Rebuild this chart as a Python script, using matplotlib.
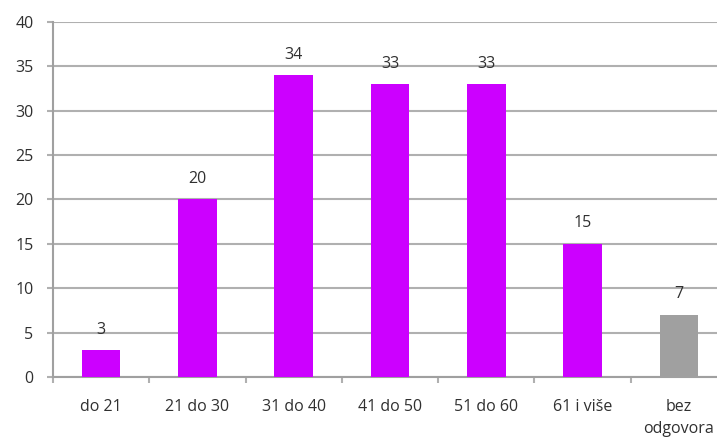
import numpy as np
import matplotlib.pyplot as plt

categories = ["do 21", "21 do 30", "31 do 40", "41 do 50", "51 do 60", "61 i više", "bez\nodgovora"]
values = [3, 20, 34, 33, 33, 15, 7]
bar_colors = ["#CC00FF"] * 6 + ["#A0A0A0"]

plt.rcParams["font.family"] = ["Open Sans", "DejaVu Sans"]

fig = plt.figure(figsize=(7.17, 4.37), dpi=100)
ax = fig.add_axes([0.0739, 0.1373, 0.940, 0.8124])

x = np.arange(len(categories))
ax.bar(x, values, width=0.40, color=bar_colors, zorder=3)
for xi, v in zip(x, values):
    ax.text(xi, v + 1.4, str(v), ha="center", va="bottom", fontsize=11.5, color="#303030")

ax.set_xlim(-0.5, len(categories) - 0.5)
ax.set_ylim(0, 40)
ax.set_yticks(range(0, 41, 5))
ax.yaxis.grid(True, color="#b0b0b0", linewidth=1.5, zorder=0)
ax.set_xticks(x)
ax.set_xticklabels(categories, fontsize=11.5, color="#303030", linespacing=1.5)
ax.tick_params(axis="x", length=0, pad=16)
ax.tick_params(axis="y", length=4, width=1.5, color="#b0b0b0", labelsize=11.5, labelcolor="#303030", pad=10)
ax.set_xticks(np.arange(-0.5, len(categories), 1), minor=True)
ax.tick_params(axis="x", which="minor", length=4, width=1.5, color="#b0b0b0")
for side in ["top", "right"]:
    ax.spines[side].set_visible(False)
ax.spines["left"].set_color("#a0a0a0")
ax.spines["bottom"].set_color("#a0a0a0")
ax.spines["left"].set_linewidth(1.5)
ax.spines["bottom"].set_linewidth(1.5)

plt.savefig("out.png", dpi=100)
